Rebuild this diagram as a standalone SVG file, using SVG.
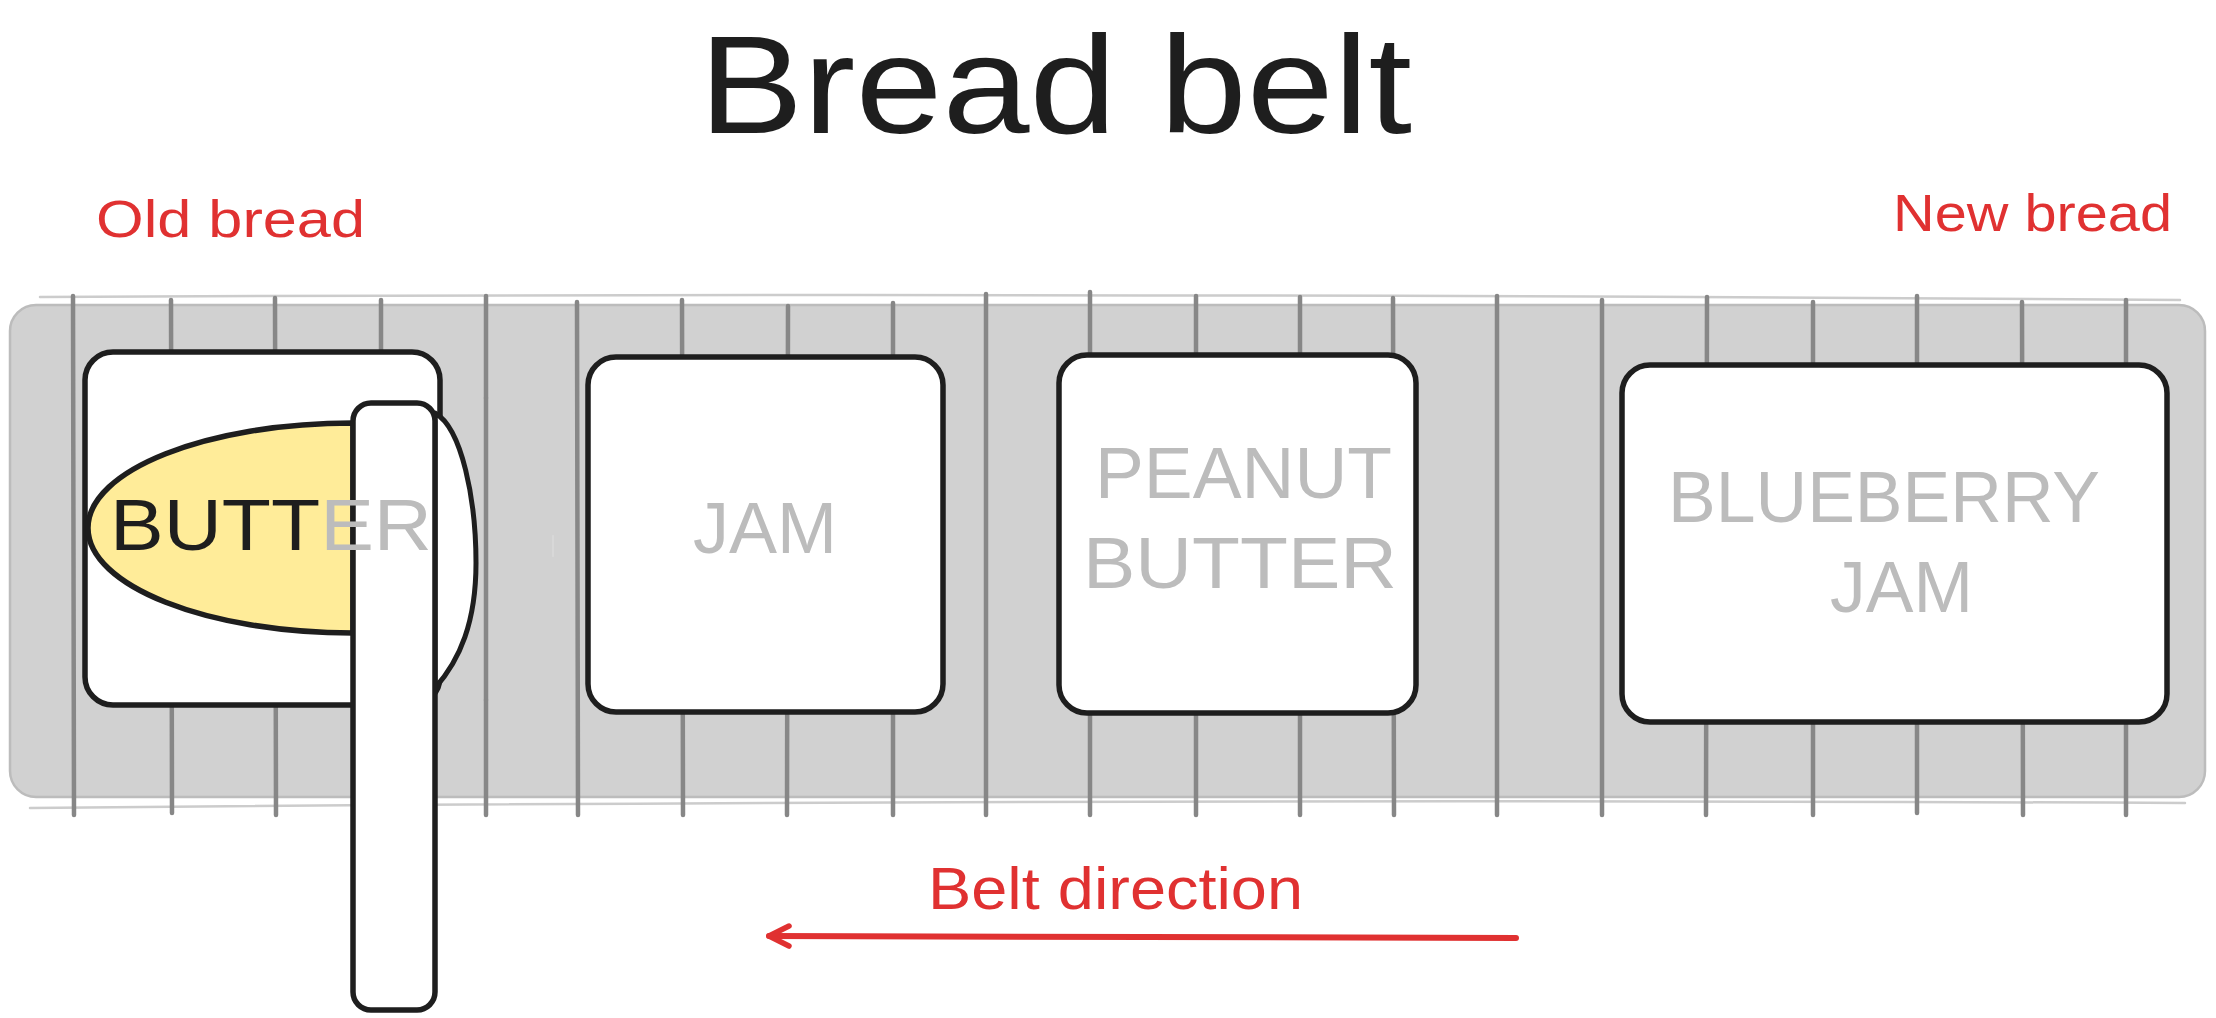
<svg xmlns="http://www.w3.org/2000/svg" width="2216" height="1018" viewBox="0 0 2216 1018">
<style>
  .hand { font-family: "Liberation Sans", "DejaVu Sans", sans-serif; }
  .red { fill: #e03131; }
  .ink { fill: #1e1e1e; }
  .muted { fill: #bcbcbc; }
  .box { fill: #ffffff; stroke: #1e1e1e; stroke-width: 5.5; stroke-linejoin: round; }
  .slat { stroke: #878787; stroke-width: 4.5; stroke-linecap: round; fill: none; }
  .sketch { fill: none; stroke: #cccccc; stroke-width: 2.5; stroke-linecap: round; }
</style>
<defs>
  <marker id="arrowhead" viewBox="0 0 26 26" markerWidth="26" markerHeight="26" refX="23" refY="13" orient="auto" markerUnits="userSpaceOnUse">
    <path d="M 3 3 L 23 13 L 3 23" fill="none" stroke="#e03131" stroke-width="5.5" stroke-linecap="round" stroke-linejoin="round"/>
  </marker>
</defs>
<rect width="2216" height="1018" fill="#ffffff"/>

<g id="title">
  <text class="hand ink" x="699" y="133" font-size="140" textLength="713" lengthAdjust="spacingAndGlyphs">Bread belt</text>
</g>

<g id="label-old">
  <text class="hand red" x="96" y="237" font-size="52" textLength="269" lengthAdjust="spacingAndGlyphs">Old bread</text>
</g>
<g id="label-new">
  <text class="hand red" x="1893" y="231" font-size="52" textLength="279" lengthAdjust="spacingAndGlyphs">New bread</text>
</g>

<g id="belt">
  <rect x="10" y="305" width="2195" height="492" rx="26" fill="#d1d1d1" stroke="#bcbcbc" stroke-width="2.5"/>
  <path class="sketch" d="M 40 297 Q 1100 292 2180 300"/>
  <path class="sketch" d="M 30 808 Q 1100 798 2185 803"/>
  <g id="slats">
    <line class="slat" x1="73" y1="296" x2="74" y2="815"/>
    <line class="slat" x1="171" y1="300" x2="172" y2="813"/>
    <line class="slat" x1="275" y1="298" x2="276" y2="815"/>
    <line class="slat" x1="381" y1="300" x2="381" y2="813"/>
    <line class="slat" x1="486" y1="296" x2="486" y2="398"/>
    <line class="slat" x1="486" y1="398" x2="486" y2="700" stroke="#a8a8a8" stroke-width="3"/>
    <line class="slat" x1="486" y1="700" x2="486" y2="815"/>
    <line class="slat" x1="577" y1="302" x2="578" y2="815"/>
    <line class="slat" x1="682" y1="300" x2="683" y2="815"/>
    <line class="slat" x1="788" y1="306" x2="787" y2="815"/>
    <line class="slat" x1="893" y1="303" x2="893" y2="815"/>
    <line class="slat" x1="986" y1="294" x2="986" y2="815"/>
    <line class="slat" x1="1090" y1="292" x2="1090" y2="815"/>
    <line class="slat" x1="1196" y1="296" x2="1196" y2="815"/>
    <line class="slat" x1="1300" y1="297" x2="1300" y2="815"/>
    <line class="slat" x1="1393" y1="298" x2="1394" y2="815"/>
    <line class="slat" x1="1497" y1="296" x2="1497" y2="815"/>
    <line class="slat" x1="1602" y1="300" x2="1602" y2="815"/>
    <line class="slat" x1="1707" y1="297" x2="1706" y2="815"/>
    <line class="slat" x1="1813" y1="302" x2="1813" y2="815"/>
    <line class="slat" x1="1917" y1="296" x2="1917" y2="813"/>
    <line class="slat" x1="2022" y1="302" x2="2023" y2="815"/>
    <line class="slat" x1="2126" y1="300" x2="2126" y2="815"/>
  </g>
  <line x1="553" y1="536" x2="553" y2="556" stroke="#d8d8d8" stroke-width="2" stroke-linecap="round"/>
</g>

<g id="box-jam">
  <rect class="box" x="588" y="357" width="355" height="355" rx="28"/>
  <text class="hand muted" x="693" y="553" font-size="72" textLength="144" lengthAdjust="spacingAndGlyphs">JAM</text>
</g>

<g id="box-peanut-butter">
  <rect class="box" x="1059" y="355" width="357" height="358" rx="28"/>
  <text class="hand muted" x="1095" y="498" font-size="72" textLength="297" lengthAdjust="spacingAndGlyphs">PEANUT</text>
  <text class="hand muted" x="1083" y="588" font-size="72" textLength="314" lengthAdjust="spacingAndGlyphs">BUTTER</text>
</g>

<g id="box-blueberry-jam">
  <rect class="box" x="1622" y="365" width="545" height="357" rx="28"/>
  <text class="hand muted" x="1668" y="522" font-size="72" textLength="432" lengthAdjust="spacingAndGlyphs">BLUEBERRY</text>
  <text class="hand muted" x="1830" y="612" font-size="72" textLength="143" lengthAdjust="spacingAndGlyphs">JAM</text>
</g>

<g id="box-butter">
  <rect class="box" x="85" y="352" width="355" height="353" rx="28"/>
  <path id="butter" d="M 353 423 C 207 423 88 470 88 528 C 88 586 207 633 353 633 Z" fill="#ffec99" stroke="#1e1e1e" stroke-width="5.5" stroke-linejoin="round"/>
</g>

<g id="knife">
  <path id="knife-blade" d="M 435 413 C 462 428 476 500 476 563 C 476 622 460 660 435 688 Z" fill="#ffffff" stroke="#1e1e1e" stroke-width="5" stroke-linejoin="round"/>
  <rect id="knife-handle" class="box" x="353" y="403" width="82" height="607" rx="18"/>
</g>

<g id="butter-label">
  <text class="hand" x="110" y="550" font-size="72" textLength="322" lengthAdjust="spacingAndGlyphs"><tspan class="ink">BUTT</tspan><tspan class="muted">ER</tspan></text>
</g>

<g id="connectors">
  <path id="belt-direction-arrow" d="M 1516 938 L 769 936" fill="none" stroke="#e03131" stroke-width="6" stroke-linecap="round" marker-end="url(#arrowhead)"/>
</g>

<g id="label-direction">
  <text class="hand red" x="928" y="909" font-size="60" textLength="375" lengthAdjust="spacingAndGlyphs">Belt direction</text>
</g>
</svg>
